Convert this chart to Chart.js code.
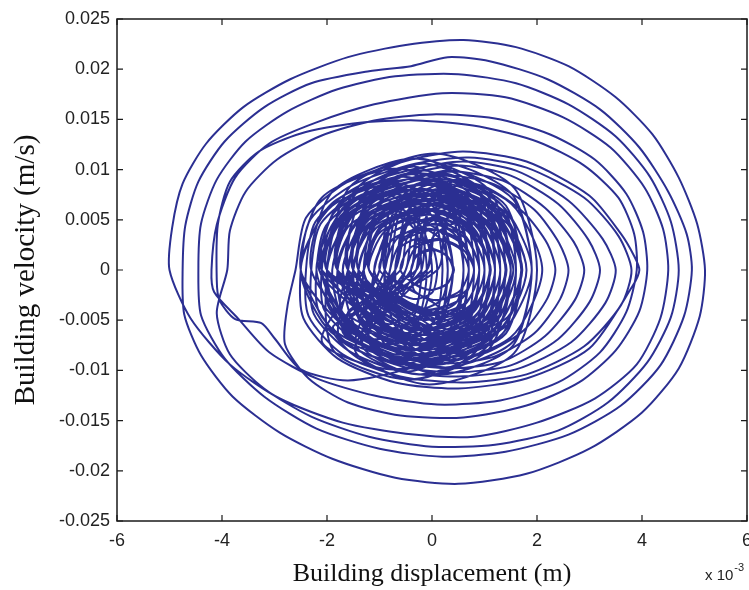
<!DOCTYPE html>
<html>
<head>
<meta charset="utf-8">
<script src="https://cdn.jsdelivr.net/npm/chart.js@4/dist/chart.umd.min.js"></script>
<style>
  html, body { margin: 0; padding: 0; background: #ffffff; overflow: hidden; }
  #wrap { position: relative; width: 749px; height: 590px; }
</style>
</head>
<body>
<div id="wrap"><canvas id="c" width="749" height="590"></canvas></div>
<script>
// Building response phase portrait: displacement (x 10^-3 m) against velocity (m/s)

// Onset: small cycles growing from rest
const onsetX = [
  -0.4, -0.29, 0.02, 0.3, 0.42, 0.28, -0.03, -0.3,
  -0.6, -0.42, 0.15, 0.6, 0.8, 0.62, 0.05, -0.41,
  -1.0, -0.74, -0.05, 0.57, 0.8, 0.55, -0.16, -0.76,
  -1.1, -0.8, 0.08, 0.8, 1.12, 0.78, -0.05, -0.8,
  -1.5, -1.12, -0.1, 0.76, 1.1, 0.72, -0.28, -1.15,
  -1.6, -1.2, 0.0, 0.98, 1.42, 0.96, -0.2, -1.17,
  -2.0, -1.5, -0.2, 0.94, 1.4, 0.9, -0.4, -1.53,
  -2.1, -1.58, -0.08, 1.18, 1.72, 1.15, -0.32, -1.56,
  -2.5, -1.9, -0.28, 1.12, 1.7, 1.1, -0.5, -1.92,
  -2.5, -1.87, -0.18, 1.3, 1.9, 1.27, -0.42, -1.6, -2.5, -3.0, -3.25, -3.75, -4.05
];
const onsetV = [
  0, 0.0015, 0.0021, 0.0013, 0, -0.0014, -0.002, -0.0015,
  0, 0.0022, 0.0031, 0.002, 0, -0.0022, -0.003, -0.002,
  0, 0.0031, 0.0041, 0.0026, 0, -0.0029, -0.004, -0.0027,
  0, 0.0036, 0.0052, 0.0034, 0, -0.0037, -0.0049, -0.0034,
  0, 0.0043, 0.0061, 0.0041, 0, -0.0043, -0.006, -0.0041,
  0, 0.005, 0.0071, 0.0048, 0, -0.0051, -0.0069, -0.0048,
  0, 0.0054, 0.0076, 0.0052, 0, -0.0054, -0.0074, -0.0052,
  0, 0.0061, 0.0086, 0.0059, 0, -0.006, -0.0084, -0.0061,
  0, 0.0064, 0.0091, 0.0062, 0, -0.0064, -0.0089, -0.0062,
  0, 0.0068, 0.0096, 0.0066, 0, -0.0067, -0.0098, -0.011, -0.0099, -0.0068, -0.0053, -0.0049, -0.003
];

// Strong shaking: the widest cycles
const strongX = [
  -4.1, -4.08, -3.85, -3.3, -2.5, -1.5, -0.3, 0.9, 2.0, 2.9, 3.55, 3.85, 3.9, 3.7, 3.2, 2.4, 1.3, 0.1, -1.1, -2.2, -3.1, -3.7, -4.15,
  -4.2, -4.1, -3.75, -3.1, -2.2, -1.1, 0.2, 1.4, 2.5, 3.4, 4.05, 4.4, 4.5, 4.35, 3.9, 3.1, 2.0, 0.8, -0.5, -1.7, -2.9, -3.85, -4.6,
  -5.0, -4.95, -4.75, -4.3, -3.6, -2.7, -1.6, -0.5, 0.6, 1.6, 2.6, 3.5, 4.2, 4.7, 5.05, 5.2, 5.1, 4.7, 4.0, 3.0, 1.8, 0.5, -0.7, -1.9, -2.9, -3.8, -4.4, -4.72,
  -4.75, -4.7, -4.45, -3.95, -3.2, -2.3, -1.2, -0.4, 0.3, 1.1, 2.2, 3.2, 3.95, 4.5, 4.85, 4.95, 4.8, 4.35, 3.6, 2.6, 1.4, 0.2, -1.0, -2.2, -3.2, -3.95, -4.4,
  -4.45, -4.4, -4.1, -3.55, -2.75, -1.8, -0.7, 0.5, 1.6, 2.6, 3.5, 4.15, 4.55, 4.7, 4.55, 4.1, 3.35, 2.4, 1.2, 0.0, -1.2, -2.3, -3.2, -3.85, -4.1,
  -3.9, -3.85, -3.55, -2.95, -2.1, -1.1, 0.0, 1.2, 2.25, 3.1, 3.7, 4.02, 4.1, 3.95, 3.5, 2.8, 1.8, 0.6, -0.6, -1.6, -2.35, -2.8, -2.75
];
const strongV = [
  -0.001, 0.0045, 0.0088, 0.0118, 0.0136, 0.0146, 0.0149, 0.0143, 0.0128, 0.0104, 0.0072, 0.0036, 0, -0.0042, -0.0082, -0.0112, -0.013, -0.0134, -0.0125, -0.0108, -0.0082, -0.0048, -0.0022,
  0, 0.0045, 0.0092, 0.0126, 0.0147, 0.0165, 0.0176, 0.0172, 0.0152, 0.0122, 0.0082, 0.0041, 0, -0.0048, -0.0094, -0.0128, -0.0152, -0.0166, -0.0163, -0.0152, -0.0128, -0.0094, -0.0048,
  0, 0.0042, 0.0086, 0.0126, 0.0162, 0.019, 0.0212, 0.0224, 0.0229, 0.0222, 0.0203, 0.0172, 0.0135, 0.0092, 0.0046, 0, -0.0046, -0.0098, -0.0142, -0.0178, -0.0203, -0.0213, -0.0207, -0.0188, -0.0162, -0.0126, -0.0085, -0.0044,
  0, 0.0044, 0.0088, 0.0128, 0.0162, 0.0186, 0.0198, 0.0203, 0.0212, 0.0208, 0.019, 0.016, 0.0122, 0.0078, 0.0036, 0, -0.0046, -0.0095, -0.0135, -0.0164, -0.0181, -0.0186, -0.0178, -0.0158, -0.0126, -0.0088, -0.0045,
  0, 0.0046, 0.009, 0.0128, 0.0158, 0.018, 0.0193, 0.0195, 0.0186, 0.0165, 0.0133, 0.0093, 0.0048, 0, -0.0047, -0.0092, -0.0132, -0.016, -0.0174, -0.0176, -0.0166, -0.0146, -0.0118, -0.0084, -0.0043,
  0, 0.0039, 0.0078, 0.011, 0.0134, 0.0149, 0.0155, 0.0151, 0.0135, 0.011, 0.0076, 0.0038, 0, -0.0041, -0.008, -0.0112, -0.0135, -0.0147, -0.0145, -0.0132, -0.0108, -0.0074, -0.0035
];

// Sway: cycles drifting toward positive displacement
const swayX = [
  -2.6, -2.4, -1.6, -0.4, 0.6, 1.8, 3.0, 3.6, 3.85, 3.95, 3.82, 3.0, 1.8, 0.5, -0.7, -1.8, -2.45,
  -2.5, -2.32, -1.5, -0.3, 0.7, 1.8, 2.9, 3.55, 3.8, 3.6, 2.9, 1.8, 0.6, -0.6, -1.7, -2.35,
  -2.4, -2.22, -1.45, -0.3, 0.6, 1.6, 2.6, 3.25, 3.5, 3.3, 2.65, 1.6, 0.5, -0.6, -1.6, -2.25,
  -2.3, -2.12, -1.35, -0.25, 0.55, 1.5, 2.4, 2.98, 3.2, 3.0, 2.4, 1.5, 0.45, -0.5, -1.5, -2.15,
  -2.2, -2.02, -1.3, -0.3, 0.45, 1.35, 2.15, 2.7, 2.9, 2.72, 2.15, 1.35, 0.4, -0.5, -1.4, -2.05,
  -2.1, -1.93, -1.25, -0.3, 0.4, 1.2, 1.95, 2.42, 2.6, 2.44, 1.95, 1.2, 0.35, -0.5, -1.3, -1.96,
  -2.0, -1.84, -1.2, -0.3, 0.35, 1.05, 1.75, 2.2, 2.35, 2.2, 1.75, 1.05, 0.3, -0.5, -1.25, -1.75
];
const swayV = [
  0, 0.0052, 0.0088, 0.011, 0.0118, 0.0108, 0.0074, 0.0036, 0.0014, 0, -0.0016, -0.0078, -0.0108, -0.0118, -0.0112, -0.0088, -0.0048,
  0, 0.005, 0.0085, 0.0106, 0.0112, 0.0102, 0.0072, 0.0034, 0, -0.0035, -0.0076, -0.0104, -0.0112, -0.0106, -0.0084, -0.0046,
  0, 0.0048, 0.0082, 0.0101, 0.0108, 0.0099, 0.0069, 0.0031, 0, -0.0033, -0.0072, -0.0099, -0.0106, -0.0101, -0.008, -0.0044,
  0, 0.0046, 0.0079, 0.0098, 0.0104, 0.0094, 0.0066, 0.003, 0, -0.0032, -0.0069, -0.0095, -0.0102, -0.0097, -0.0077, -0.0042,
  0, 0.0044, 0.0075, 0.0093, 0.0098, 0.0089, 0.0062, 0.0028, 0, -0.003, -0.0066, -0.0091, -0.0098, -0.0093, -0.0073, -0.004,
  0, 0.0042, 0.0072, 0.0089, 0.0094, 0.0085, 0.006, 0.0027, 0, -0.0029, -0.0063, -0.0086, -0.0093, -0.0088, -0.007, -0.0038,
  0, 0.004, 0.0069, 0.0085, 0.009, 0.0082, 0.0057, 0.0026, 0, -0.0028, -0.006, -0.0082, -0.009, -0.0085, -0.0067, -0.0037
];

// Residual: off-centre cycles wandering through the middle
const residualX = [
  -1.6, -1.38, -0.55, 0.18, 0.4, 0.18, -0.65, -1.36,
  -0.7, -0.46, 0.45, 1.26, 1.5, 1.26, 0.35, -0.46,
  -1.8, -1.6, -0.85, -0.2, 0.0, -0.2, -0.95, -1.6,
  -0.3, -0.1, 0.65, 1.3, 1.5, 1.3, 0.55, -0.1,
  -1.5, -1.24, -0.25, 0.64, 0.9, 0.64, -0.35, -1.24,
  -0.5, -0.35, 0.25, 0.75, 0.9, 0.75, 0.15, -0.35,
  -2.0, -1.71, -0.65, 0.31, 0.6, 0.31, -0.75, -1.71,
  -0.7, -0.44, 0.55, 1.44, 1.7, 1.44, 0.45, -0.44,
  -1.2, -1.02, -0.35, 0.22, 0.4, 0.22, -0.45, -1.02,
  -1.3, -0.99, 0.15, 1.19, 1.5, 1.19, 0.05, -0.99,
  -1.8, -1.62, -0.95, -0.38, -0.2, -0.38, -1.05, -1.62,
  -0.1, 0.08, 0.75, 1.32, 1.5, 1.32, 0.65, 0.08,
  -1.6, -1.36, -0.45, 0.36, 0.6, 0.36, -0.55, -1.36,
  -0.7, -0.48, 0.35, 1.08, 1.3, 1.08, 0.25, -0.48,
  -2.0, -1.74, -0.75, 0.14, 0.4, 0.14, -0.85, -1.74,
  -0.6, -0.47, 0.05, 0.47, 0.6, 0.47, -0.05, -0.47,
  -1.8, -1.45, -0.15, 1.05, 1.4, 1.05, -0.25, -1.45,
  -0.9, -0.61, 0.45, 1.41, 1.7, 1.41, 0.35, -0.61,
  -2.1, -1.77, -0.55, 0.57, 0.9, 0.57, -0.65, -1.77,
  -1.5, -1.13, 0.25, 1.53, 1.9, 1.53, 0.15, -1.13,
  -2.3, -1.88, -0.35, 1.08, 1.5, 1.08, -0.45, -1.88,
  -2.0, -1.56, 0.05, 1.56, 2.0, 1.56, -0.05, -1.56,
  -2.5, -2.1, -0.65, 0.7, 1.1, 0.7, -0.75, -2.1,
  -1.3, -0.95, 0.35, 1.55, 1.9, 1.55, 0.25, -0.95
];
const residualV = [
  0, 0.0047, 0.0066, 0.0046, 0, -0.0048, -0.0064, -0.0046,
  0, 0.005, 0.0071, 0.0051, 0, -0.0049, -0.0069, -0.005,
  0, 0.0043, 0.0061, 0.0043, 0, -0.0044, -0.006, -0.0042,
  0, 0.0054, 0.0076, 0.0053, 0, -0.0054, -0.0074, -0.0053,
  0, 0.0058, 0.0081, 0.0057, 0, -0.0058, -0.0079, -0.0057,
  0, 0.004, 0.0056, 0.0039, 0, -0.004, -0.0054, -0.0039,
  0, 0.0061, 0.0086, 0.006, 0, -0.0061, -0.0084, -0.006,
  0, 0.0047, 0.0066, 0.0046, 0, -0.0047, -0.0064, -0.0046,
  0, 0.0036, 0.0051, 0.0035, 0, -0.0036, -0.0049, -0.0035,
  0, 0.0065, 0.0091, 0.0064, 0, -0.0065, -0.0089, -0.0064,
  0, 0.005, 0.0071, 0.0051, 0, -0.005, -0.0069, -0.0051,
  0, 0.0043, 0.0061, 0.0044, 0, -0.0043, -0.0059, -0.0044,
  0, 0.0068, 0.0096, 0.0069, 0, -0.0068, -0.0094, -0.0069,
  0, 0.0058, 0.0081, 0.0057, 0, -0.0058, -0.0079, -0.0057,
  0, 0.0054, 0.0076, 0.0053, 0, -0.0054, -0.0074, -0.0053,
  0, 0.0032, 0.0046, 0.0033, 0, -0.0032, -0.0044, -0.0033,
  0, 0.0076, 0.0106, 0.0075, 0, -0.0076, -0.0104, -0.0075,
  0, 0.0063, 0.0089, 0.0064, 0, -0.0063, -0.0087, -0.0064,
  0, 0.0066, 0.0093, 0.0067, 0, -0.0066, -0.0091, -0.0067,
  0, 0.0076, 0.0106, 0.0075, 0, -0.0076, -0.0104, -0.0075,
  0, 0.0079, 0.0111, 0.008, 0, -0.0079, -0.0109, -0.008,
  0, 0.0083, 0.0116, 0.0082, 0, -0.0083, -0.0114, -0.0082,
  0, 0.0072, 0.0101, 0.0071, 0, -0.0072, -0.0099, -0.0071,
  0, 0.0071, 0.0099, 0.007, 0, -0.0071, -0.0097, -0.007
];

// Chatter: narrow, tall cycles crossing the centre
const chatterX = [
  -0.7, -0.59, -0.18, 0.19, 0.3, 0.19, -0.22, -0.59,
  -0.3, -0.17, 0.32, 0.77, 0.9, 0.77, 0.28, -0.17,
  -1.2, -1.05, -0.47, 0.05, 0.2, 0.05, -0.53, -1.05,
  -0.8, -0.6, 0.14, 0.8, 1.0, 0.8, 0.06, -0.6,
  -0.7, -0.61, -0.28, 0.01, 0.1, 0.01, -0.32, -0.61,
  -0.2, -0.05, 0.53, 1.05, 1.2, 1.05, 0.47, -0.05,
  -1.4, -1.27, -0.78, -0.33, -0.2, -0.33, -0.82, -1.27,
  -1.0, -0.78, 0.04, 0.78, 1.0, 0.78, -0.04, -0.78,
  -1.6, -1.34, -0.35, 0.54, 0.8, 0.54, -0.45, -1.34,
  -0.1, 0.01, 0.42, 0.79, 0.9, 0.79, 0.38, 0.01,
  -0.9, -0.72, -0.07, 0.52, 0.7, 0.52, -0.13, -0.72,
  -0.9, -0.66, 0.24, 1.06, 1.3, 1.06, 0.16, -0.66,
  -1.5, -1.3, -0.57, 0.1, 0.3, 0.1, -0.63, -1.3,
  -0.4, -0.18, 0.64, 1.38, 1.6, 1.38, 0.56, -0.18,
  -1.5, -1.21, -0.15, 0.81, 1.1, 0.81, -0.25, -1.21,
  -0.7, -0.55, 0.03, 0.55, 0.7, 0.55, -0.03, -0.55,
  -2.1, -1.88, -1.06, -0.32, -0.1, -0.32, -1.14, -1.88,
  0.1, 0.28, 0.93, 1.52, 1.7, 1.52, 0.87, 0.28,
  -1.8, -1.47, -0.25, 0.87, 1.2, 0.87, -0.35, -1.47,
  -0.4, -0.29, 0.12, 0.49, 0.6, 0.49, 0.08, -0.29
];
const chatterV = [
  0, 0.0029, 0.0041, 0.0029, 0, -0.0029, -0.0039, -0.0029,
  0, 0.0043, 0.0061, 0.0043, 0, -0.0043, -0.0059, -0.0043,
  0, 0.005, 0.0071, 0.005, 0, -0.005, -0.0069, -0.005,
  0, 0.0058, 0.0081, 0.0058, 0, -0.0058, -0.0079, -0.0058,
  0, 0.0022, 0.0031, 0.0022, 0, -0.0022, -0.0029, -0.0022,
  0, 0.0065, 0.0091, 0.0065, 0, -0.0065, -0.0089, -0.0065,
  0, 0.004, 0.0056, 0.004, 0, -0.004, -0.0054, -0.004,
  0, 0.0061, 0.0086, 0.0061, 0, -0.0061, -0.0084, -0.0061,
  0, 0.0073, 0.0103, 0.0073, 0, -0.0073, -0.0101, -0.0073,
  0, 0.0032, 0.0046, 0.0032, 0, -0.0032, -0.0044, -0.0032,
  0, 0.0054, 0.0076, 0.0054, 0, -0.0054, -0.0074, -0.0054,
  0, 0.0068, 0.0096, 0.0068, 0, -0.0068, -0.0094, -0.0068,
  0, 0.0058, 0.0081, 0.0058, 0, -0.0058, -0.0079, -0.0058,
  0, 0.0061, 0.0086, 0.0061, 0, -0.0061, -0.0084, -0.0061,
  0, 0.0071, 0.0099, 0.0071, 0, -0.0071, -0.0097, -0.0071,
  0, 0.0043, 0.0061, 0.0043, 0, -0.0043, -0.0059, -0.0043,
  0, 0.0056, 0.0079, 0.0056, 0, -0.0056, -0.0077, -0.0056,
  0, 0.005, 0.0071, 0.005, 0, -0.005, -0.0069, -0.005,
  0, 0.0079, 0.0111, 0.0079, 0, -0.0079, -0.0109, -0.0079,
  0, 0.0036, 0.0051, 0.0036, 0, -0.0036, -0.0049, -0.0036
];

// Free decay: many tight cycles around rest
const decayX = [
  -2.1, -1.51, 0.1, 1.51, 2.1, 1.5, -0.1, -1.52,
  -2.2, -1.64, -0.1, 1.24, 1.8, 1.24, -0.3, -1.64,
  -2.0, -1.47, 0.0, 1.27, 1.8, 1.27, -0.2, -1.47,
  -2.1, -1.6, -0.21, 1.0, 1.5, 1.0, -0.39, -1.6,
  -1.9, -1.42, -0.12, 1.02, 1.5, 1.02, -0.28, -1.42,
  -1.7, -1.25, -0.02, 1.05, 1.5, 1.05, -0.18, -1.25,
  -1.8, -1.38, -0.22, 0.78, 1.2, 0.78, -0.38, -1.38,
  -1.6, -1.21, -0.13, 0.81, 1.2, 0.81, -0.27, -1.21,
  -1.3, -0.94, 0.07, 0.94, 1.3, 0.94, -0.07, -0.94,
  -1.3, -0.96, -0.04, 0.76, 1.1, 0.76, -0.16, -0.96,
  -1.6, -1.21, -0.13, 0.81, 1.2, 0.81, -0.27, -1.21,
  -1.7, -1.25, -0.02, 1.05, 1.5, 1.05, -0.18, -1.25,
  -1.5, -1.08, 0.08, 1.08, 1.5, 1.08, -0.08, -1.08,
  -2.15, -1.6, -0.21, 1.02, 1.55, 1.0, -0.39, -1.6,
  -2.1, -1.57, -0.1, 1.17, 1.7, 1.17, -0.3, -1.57,
  -1.8, -1.32, -0.02, 1.12, 1.6, 1.12, -0.18, -1.32,
  -1.4, -1.01, 0.07, 1.01, 1.4, 1.01, -0.07, -1.01,
  -1.4, -1.06, -0.14, 0.66, 1.0, 0.66, -0.26, -1.06,
  -1.1, -0.82, -0.05, 0.62, 0.9, 0.62, -0.15, -0.82,
  -0.8, -0.58, 0.04, 0.58, 0.8, 0.58, -0.04, -0.58,
  -1.2, -0.89, -0.05, 0.69, 1.0, 0.69, -0.15, -0.89,
  -1.3, -0.94, 0.06, 0.94, 1.3, 0.94, -0.06, -0.94,
  -1.8, -1.35, -0.12, 0.95, 1.4, 0.95, -0.28, -1.35,
  -1.5, -1.11, -0.03, 0.91, 1.3, 0.91, -0.17, -1.11,
  -1.1, -0.79, 0.05, 0.79, 1.1, 0.79, -0.05, -0.79,
  -0.9, -0.65, 0.05, 0.65, 0.9, 0.65, -0.05, -0.65,
  -0.5, -0.33, 0.13, 0.53, 0.7, 0.53, 0.07, -0.33,
  -0.4, -0.29, 0.02, 0.29, 0.4, 0.29, -0.02, -0.29, 0.0
];
const decayV = [
  0, 0.0067, 0.0095, 0.0066, 0, -0.0067, -0.0095, -0.0066,
  0, 0.0063, 0.009, 0.0064, 0, -0.0063, -0.009, -0.0062,
  0, 0.006, 0.0086, 0.0059, 0, -0.006, -0.0085, -0.0059,
  0, 0.0056, 0.0081, 0.0056, 0, -0.0056, -0.008, -0.0057,
  0, 0.006, 0.0085, 0.0059, 0, -0.006, -0.0084, -0.0059,
  0, 0.0052, 0.0076, 0.0053, 0, -0.0052, -0.0075, -0.0053,
  0, 0.0049, 0.007, 0.0049, 0, -0.0049, -0.007, -0.0049,
  0, 0.0053, 0.0075, 0.0052, 0, -0.0053, -0.0074, -0.0052,
  0, 0.0046, 0.0065, 0.0045, 0, -0.0046, -0.0065, -0.0045,
  0, 0.0042, 0.006, 0.0042, 0, -0.0042, -0.006, -0.0042,
  0, 0.0046, 0.0066, 0.0045, 0, -0.0046, -0.0065, -0.0045,
  0, 0.0049, 0.0071, 0.0049, 0, -0.0049, -0.007, -0.0049,
  0, 0.0053, 0.0075, 0.0052, 0, -0.0053, -0.0075, -0.0052,
  0, 0.0056, 0.0081, 0.0056, 0, -0.0056, -0.008, -0.0056,
  0, 0.006, 0.0086, 0.0059, 0, -0.006, -0.0085, -0.0059,
  0, 0.0056, 0.008, 0.0056, 0, -0.0056, -0.008, -0.0056,
  0, 0.0049, 0.007, 0.0049, 0, -0.0049, -0.007, -0.0049,
  0, 0.0042, 0.006, 0.0042, 0, -0.0042, -0.006, -0.0042,
  0, 0.0035, 0.005, 0.0035, 0, -0.0035, -0.005, -0.0035,
  0, 0.0028, 0.004, 0.0028, 0, -0.0028, -0.004, -0.0028,
  0, 0.0039, 0.0055, 0.0038, 0, -0.0039, -0.0055, -0.0038,
  0, 0.0045, 0.0066, 0.0046, 0, -0.0045, -0.0065, -0.0046,
  0, 0.0052, 0.0076, 0.0053, 0, -0.0052, -0.0075, -0.0053,
  0, 0.0049, 0.007, 0.0049, 0, -0.0049, -0.007, -0.0049,
  0, 0.0042, 0.006, 0.0042, 0, -0.0042, -0.006, -0.0042,
  0, 0.0032, 0.0045, 0.0031, 0, -0.0032, -0.0045, -0.0031,
  0, 0.0021, 0.003, 0.0021, 0, -0.0021, -0.003, -0.0021,
  0, 0.0014, 0.002, 0.0014, 0, -0.0014, -0.002, -0.0014, 0
];

// Axis ticks
const xTickValues = [-6, -4, -2, 0, 2, 4, 6];
const xTickLabels = ['-6', '-4', '-2', '0', '2', '4', '6'];
const yTickValues = [-0.025, -0.02, -0.015, -0.01, -0.005, 0, 0.005, 0.01, 0.015, 0.02, 0.025];
const yTickLabels = ['-0.025', '-0.02', '-0.015', '-0.01', '-0.005', '0', '0.005', '0.01', '0.015', '0.02', '0.025'];

const xTitle = 'Building displacement (m)';
const yTitle = 'Building velocity (m/s)';
const xExponentBase = 'x 10';
const xExponentPower = '-3';

function pairUp(xs, vs) {
  return xs.map((x, i) => ({ x: x, y: vs[i] }));
}
const trajectory = [].concat(
  pairUp(onsetX, onsetV),
  pairUp(strongX, strongV),
  pairUp(swayX, swayV),
  pairUp(residualX, residualV),
  pairUp(chatterX, chatterV),
  pairUp(decayX, decayV)
);

// Box frame with inward tick marks on all four sides, plus the exponent note
const framePlugin = {
  id: 'frameTicks',
  afterDatasetsDraw(chart) {
    const { ctx, chartArea: a, scales } = chart;
    const xs = scales.x, ys = scales.y;
    const len = 6;
    ctx.save();
    ctx.strokeStyle = '#1a1a1a';
    ctx.lineWidth = 1.5;
    ctx.strokeRect(a.left, a.top, a.right - a.left, a.bottom - a.top);
    ctx.lineWidth = 1.2;
    ctx.beginPath();
    xTickValues.forEach(v => {
      const px = xs.getPixelForValue(v);
      ctx.moveTo(px, a.bottom); ctx.lineTo(px, a.bottom - len);
      ctx.moveTo(px, a.top); ctx.lineTo(px, a.top + len);
    });
    yTickValues.forEach(v => {
      const py = ys.getPixelForValue(v);
      ctx.moveTo(a.left, py); ctx.lineTo(a.left + len, py);
      ctx.moveTo(a.right, py); ctx.lineTo(a.right - len, py);
    });
    ctx.stroke();
    ctx.restore();
  },
  afterDraw(chart) {
    const { ctx } = chart;
    ctx.save();
    ctx.fillStyle = '#222222';
    ctx.textBaseline = 'alphabetic';
    ctx.textAlign = 'left';
    ctx.font = '15px "Liberation Sans", Arial, sans-serif';
    ctx.fillText(xExponentBase, 705, 580);
    const w = ctx.measureText(xExponentBase).width;
    ctx.font = '11px "Liberation Sans", Arial, sans-serif';
    ctx.fillText(xExponentPower, 705 + w + 1, 571);
    ctx.restore();
  }
};

new Chart(document.getElementById('c'), {
  type: 'scatter',
  data: {
    datasets: [{
      data: trajectory,
      showLine: true,
      borderColor: '#2b2f92',
      borderWidth: 2,
      pointRadius: 0,
      pointHoverRadius: 0,
      tension: 0.25,
      fill: false
    }]
  },
  options: {
    responsive: false,
    animation: false,
    devicePixelRatio: 1,
    layout: { padding: { top: 19, right: 2, bottom: 0, left: 0 } },
    plugins: { legend: { display: false }, tooltip: { enabled: false } },
    scales: {
      x: {
        type: 'linear',
        min: -6, max: 6,
        grid: { display: false, drawTicks: false },
        border: { display: false },
        afterBuildTicks(scale) { scale.ticks = xTickValues.map(v => ({ value: v })); },
        afterFit(scale) { scale.height = 69; scale.paddingLeft = 0; scale.paddingRight = 0; },
        ticks: {
          padding: 9,
          color: '#222222',
          font: { family: '"Liberation Sans", Arial, sans-serif', size: 18 },
          maxRotation: 0,
          autoSkip: false,
          callback: v => xTickLabels[xTickValues.indexOf(v)]
        },
        title: {
          display: true,
          text: xTitle,
          color: '#111111',
          font: { family: '"Liberation Serif", "Times New Roman", serif', size: 26 },
          padding: { top: 0, bottom: 0 }
        }
      },
      y: {
        type: 'linear',
        min: -0.025, max: 0.025,
        grid: { display: false, drawTicks: false },
        border: { display: false },
        afterBuildTicks(scale) { scale.ticks = yTickValues.map(v => ({ value: v })); },
        afterFit(scale) { scale.width = 117; scale.paddingTop = 0; scale.paddingBottom = 0; },
        ticks: {
          padding: 7,
          color: '#222222',
          font: { family: '"Liberation Sans", Arial, sans-serif', size: 18 },
          autoSkip: false,
          callback: v => yTickLabels[yTickValues.indexOf(v)]
        },
        title: {
          display: true,
          text: yTitle,
          color: '#111111',
          font: { family: '"Liberation Serif", "Times New Roman", serif', size: 29 },
          padding: { top: 9, bottom: 0 }
        }
      }
    }
  },
  plugins: [framePlugin]
});
</script>
</body>
</html>
